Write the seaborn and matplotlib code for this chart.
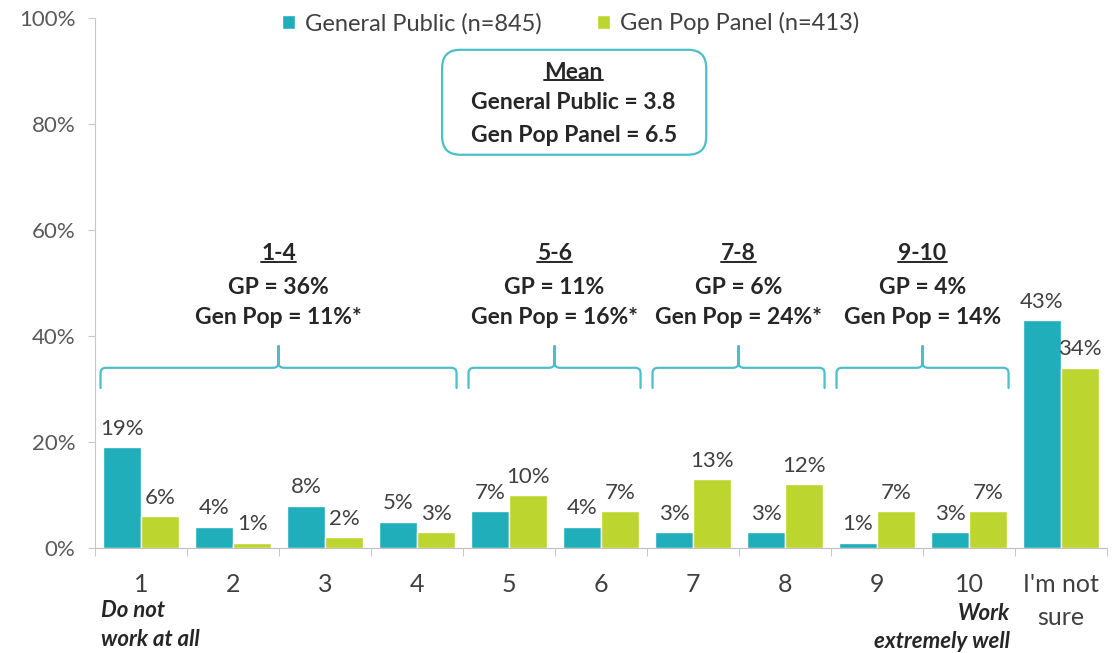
import numpy as np
import pandas as pd
import matplotlib.pyplot as plt
import seaborn as sns
from matplotlib.path import Path
from matplotlib.patches import PathPatch, FancyBboxPatch
from matplotlib.lines import Line2D

# Data
ratings = ['1', '2', '3', '4', '5', '6', '7', '8', '9', '10', "I'm not\nsure"]
general_public = [19, 4, 8, 5, 7, 4, 3, 3, 1, 3, 43]
gen_pop_panel = [6, 1, 2, 3, 10, 7, 13, 12, 7, 7, 34]
series_names = ['General Public (n=845)', 'Gen Pop Panel (n=413)']

group_titles = ['1-4', '5-6', '7-8', '9-10']
group_gp = ['GP = 36%', 'GP = 11%', 'GP = 6%', 'GP = 4%']
group_genpop = ['Gen Pop = 11%*', 'Gen Pop = 16%*', 'Gen Pop = 24%*', 'Gen Pop = 14%']
group_first = [0, 4, 6, 8]
group_last = [3, 5, 7, 9]

mean_title = 'Mean'
mean_lines = ['General Public = 3.8', 'Gen Pop Panel = 6.5']

teal = '#21AEBB'
green = '#BDD52F'
brace_col = '#4CBEC8'
text_dark = '#262626'
text_grey = '#404040'

df = pd.DataFrame({
    'rating': ratings * 2,
    'pct': general_public + gen_pop_panel,
    'series': [series_names[0]] * len(ratings) + [series_names[1]] * len(ratings),
})

sns.set_style('white')
plt.rcParams['font.family'] = ['Lato', 'DejaVu Sans']

W, H = 1117, 653
fig = plt.figure(figsize=(W / 100, H / 100), dpi=100)
ax = fig.add_axes([95 / W, 105 / H, 1012 / W, 530 / H])

sns.barplot(data=df, x='rating', y='pct', hue='series', order=ratings,
            palette=[teal, green], width=0.83, gap=0, saturation=1, ax=ax)

# value labels on the bars
for cont in ax.containers:
    ax.bar_label(cont, fmt='{:.0f}%', padding=6, fontsize=16, color=text_grey)

# axes styling
ax.set_xlim(-0.5, 10.5)
ax.set_ylim(0, 100)
ax.set_yticks(np.arange(0, 101, 20))
ax.yaxis.set_major_formatter(lambda v, p: f'{v:.0f}%')
ax.set_xticks(range(len(ratings)))
ax.set_xticklabels(ratings, linespacing=1.55)
ax.set_xlabel('')
ax.set_ylabel('')
sns.despine(ax=ax)
ax.spines['left'].set_color('#C8C8C8')
ax.spines['bottom'].set_color('#BFBFBF')
ax.tick_params(axis='y', length=5, color='#C8C8C8', pad=9, labelsize=16, labelcolor='#595959', left=True)
ax.tick_params(axis='x', which='major', length=0, pad=18, labelsize=18, labelcolor=text_grey)
ax.set_xticks(np.arange(-0.5, 11, 1), minor=True)
ax.tick_params(axis='x', which='minor', length=6, color='#BFBFBF', bottom=True)

# legend
handles, labels = ax.get_legend_handles_labels()
ax.legend(handles, labels, loc='center', bbox_to_anchor=(0.47, 0.99), ncol=2,
          frameon=False, fontsize=17, handlelength=0.55, handleheight=0.55,
          handletextpad=0.45, columnspacing=2.3, labelcolor=text_grey)

# end-point annotations
ax.text(-0.44, -0.145, 'Do not\nwork at all', transform=ax.get_xaxis_transform(),
        ha='left', va='center', fontsize=16, fontweight='bold', style='italic',
        color=text_dark, linespacing=1.45)
ax.text(9.445, -0.15, 'Work\nextremely well', transform=ax.get_xaxis_transform(),
        ha='right', va='center', multialignment='right', fontsize=16,
        fontweight='bold', style='italic', color=text_dark, linespacing=1.45)


def brace(x0, x1, y_line, y_end, y_peak):
    xm = (x0 + x1) / 2
    rx, ry = 0.06, 1.0
    verts = [(x0, y_end), (x0, y_line - ry), (x0, y_line), (x0 + rx, y_line),
             (xm - rx, y_line), (xm, y_line), (xm, y_line + ry), (xm, y_peak),
             (xm, y_line + ry), (xm, y_line), (xm + rx, y_line),
             (x1 - rx, y_line), (x1, y_line), (x1, y_line - ry), (x1, y_end)]
    codes = [Path.MOVETO, Path.LINETO, Path.CURVE3, Path.CURVE3,
             Path.LINETO, Path.CURVE3, Path.CURVE3, Path.LINETO,
             Path.LINETO, Path.CURVE3, Path.CURVE3,
             Path.LINETO, Path.CURVE3, Path.CURVE3, Path.LINETO]
    ax.add_patch(PathPatch(Path(verts, codes), fill=False, ec=brace_col, lw=1.6,
                           capstyle='round', joinstyle='round'))
    return xm


underline_me = []
for title, gp, gen, a, b in zip(group_titles, group_gp, group_genpop, group_first, group_last):
    xm = brace(a - 0.44, b + 0.43, 34.0, 30.2, 38.1)
    t = ax.text(xm, 55.5, title, ha='center', va='center', fontsize=16.5,
                fontweight='bold', color=text_dark)
    underline_me.append(t)
    ax.text(xm, 49.1, gp, ha='center', va='center', fontsize=16.5, fontweight='bold', color=text_dark)
    ax.text(xm, 43.4, gen, ha='center', va='center', fontsize=16.5, fontweight='bold', color=text_dark)

# mean box
ax_w, ax_h = 1012, 530
box = FancyBboxPatch((0.343, 0.742), 0.261, 0.198, transform=ax.transAxes,
                     boxstyle='round,pad=0,rounding_size=0.018',
                     mutation_aspect=ax_w / ax_h, fc='white', ec=brace_col, lw=1.6)
ax.add_patch(box)
t = ax.text(0.473, 0.898, mean_title, transform=ax.transAxes, ha='center', va='center',
            fontsize=16.5, fontweight='bold', color=text_dark)
underline_me.append(t)
ax.text(0.473, 0.840, mean_lines[0], transform=ax.transAxes, ha='center', va='center',
        fontsize=16.5, fontweight='bold', color=text_dark)
ax.text(0.473, 0.779, mean_lines[1], transform=ax.transAxes, ha='center', va='center',
        fontsize=16.5, fontweight='bold', color=text_dark)

# underline the headings
fig.canvas.draw()
inv = fig.transFigure.inverted()
for t in underline_me:
    bb = t.get_window_extent()
    (x0, y0), (x1, y1) = inv.transform([(bb.x0, bb.y0), (bb.x1, bb.y1)])
    yy = y0 + (y1 - y0) * 0.13
    fig.add_artist(Line2D([x0, x1], [yy, yy], color=text_dark, lw=1.4,
                          transform=fig.transFigure))

fig.savefig('out.png', dpi=100)
